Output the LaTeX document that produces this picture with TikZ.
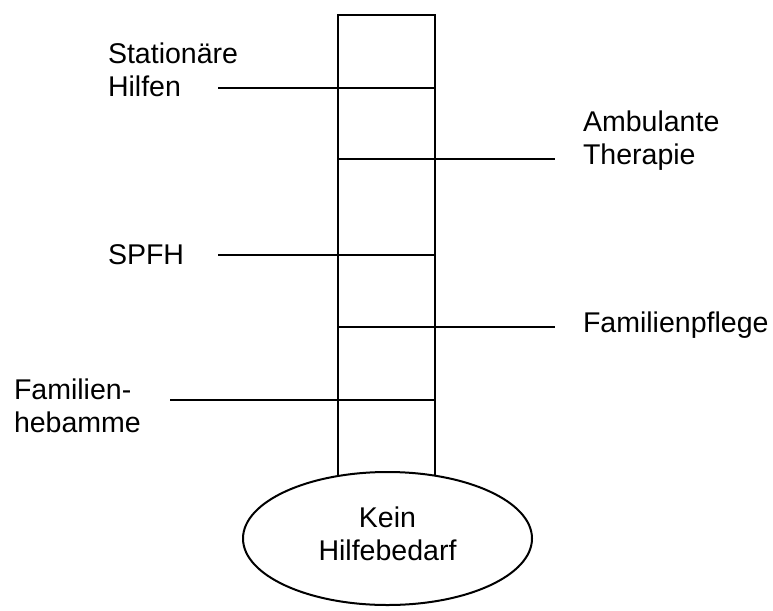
\documentclass[tikz,border=0pt]{standalone}
\usepackage{fontspec}
\setmainfont{Liberation Sans}
\usetikzlibrary{positioning,shapes.geometric}

\begin{document}
\begin{tikzpicture}[x=0.75pt,y=-0.75pt,line width=1.5pt,
                    label node/.style={anchor=north west,inner sep=0pt,align=left,
                                       font=\fontsize{21.4}{25}\selectfont},
                    ladder node/.style={draw,rectangle,inner sep=0pt,
                                        minimum width=72.75pt,minimum height=348.75pt}]

  \useasboundingbox (0,0) rectangle (773,610);

  \node[ladder node] (col) at (386.5,247.5) {};

  % rungs, free ends
  \coordinate (st) at (218,88);
  \coordinate (am) at (555,159);
  \coordinate (sp) at (218,255);
  \coordinate (fp) at (555,327);
  \coordinate (fh) at (170,400);

  \draw (st) -- (st -| col.east);
  \draw (am -| col.west) -- (am);
  \draw (sp) -- (sp -| col.east);
  \draw (fp -| col.west) -- (fp);
  \draw (fh) -- (fh -| col.east);

  \node[label node] (stat) at (107,41.6) {Stationäre\\Hilfen};
  \node[label node] (amb) at (582,109.6) {Ambulante\\Therapie};
  \node[label node] (spfh) at (107,243.6) {SPFH};
  \node[label node] (fpfl) at (582,310.6) {Familienpflege};
  \node[label node] (fheb) at (13,377.6) {Familien-\\hebamme};

  \node[ellipse,draw,fill=white,inner sep=0pt,align=center,text depth=7.5pt,
        minimum width=216.75pt,minimum height=99.75pt,
        font=\fontsize{21.4}{25}\selectfont] (kein) at (387.5,538.5) {Kein\\Hilfebedarf};
\end{tikzpicture}
\end{document}
